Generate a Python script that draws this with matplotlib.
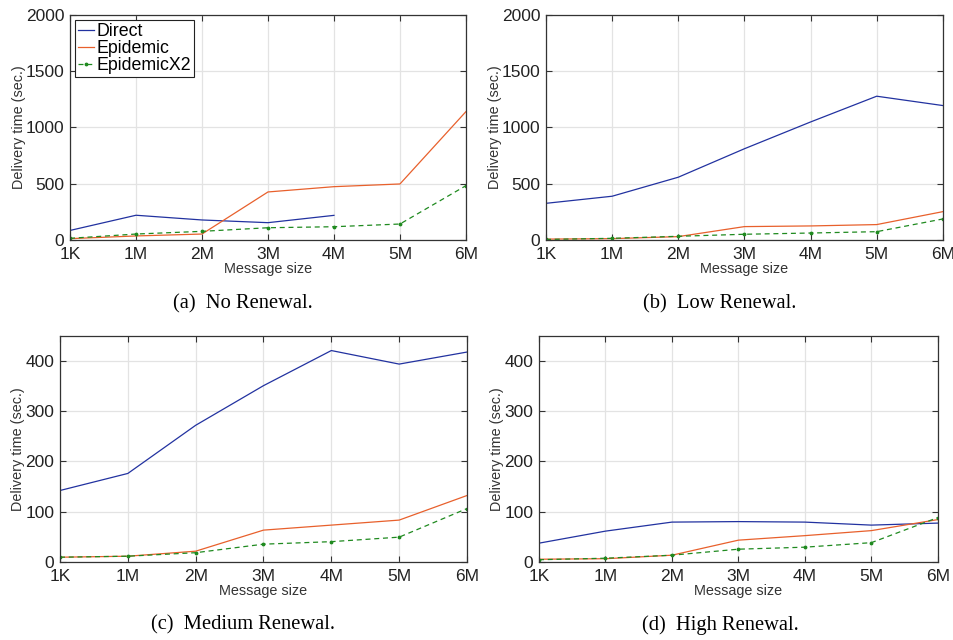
import matplotlib
matplotlib.use("Agg")
import matplotlib.pyplot as plt

plt.rcParams['font.family'] = ['Liberation Sans', 'DejaVu Sans']

sizes = ["1K", "1M", "2M", "3M", "4M", "5M", "6M"]

# delivery time (sec.) per renewal level
no_direct = [85, 220, 178, 154, 219]          # no data past 4M
no_epidemic = [12, 36, 53, 427, 474, 498, 1141]
no_epidemic_x2 = [15, 53, 77, 109, 118, 142, 483]

low_direct = [326, 389, 558, 811, 1049, 1278, 1195]
low_epidemic = [8, 12, 30, 119, 125, 137, 252]
low_epidemic_x2 = [5, 15, 33, 51, 62, 74, 187]

med_direct = [142, 176, 272, 351, 421, 394, 418]
med_epidemic = [9, 11, 21, 63, 73, 83, 132]
med_epidemic_x2 = [9, 11, 18, 35, 40, 49, 106]

high_direct = [37, 61, 79, 80, 79, 73, 77]
high_epidemic = [5, 6, 13, 43, 52, 62, 84]
high_epidemic_x2 = [4, 7, 13, 25, 29, 38, 88]

captions = ["(a)  No Renewal.", "(b)  Low Renewal.",
            "(c)  Medium Renewal.", "(d)  High Renewal."]

panels = [
    (no_direct, no_epidemic, no_epidemic_x2, 2000, [0, 500, 1000, 1500, 2000]),
    (low_direct, low_epidemic, low_epidemic_x2, 2000, [0, 500, 1000, 1500, 2000]),
    (med_direct, med_epidemic, med_epidemic_x2, 450, [0, 100, 200, 300, 400]),
    (high_direct, high_epidemic, high_epidemic_x2, 450, [0, 100, 200, 300, 400]),
]

# axes rectangles in figure fractions
rects = [
    [0.0734, 0.625, 0.415, 0.3516],
    [0.5723, 0.625, 0.416, 0.3516],
    [0.0629, 0.1223, 0.4266, 0.3527],
    [0.565, 0.1223, 0.418, 0.3527],
]
caption_pos = [(243, 304), (720, 304), (243, 625), (720, 625)]

c_direct = "#2232a0"
c_epi = "#e8602c"
c_epi2 = "#1f8a1f"

fig = plt.figure(figsize=(9.54, 6.4), dpi=100)

for i, (d, e, e2, ymax, yt) in enumerate(panels):
    ax = fig.add_axes(rects[i])
    x = list(range(len(sizes)))
    ax.plot(x[:len(d)], d, color=c_direct, lw=0.9, label="Direct")
    ax.plot(x, e, color=c_epi, lw=0.9, label="Epidemic")
    ax.plot(x, e2, color=c_epi2, lw=0.9, ls=(0, (4, 3)), marker='.',
            ms=3.5, label="EpidemicX2")
    ax.set_xlim(0, 6)
    ax.set_ylim(0, ymax)
    ax.set_xticks(x)
    ax.set_xticklabels(sizes)
    ax.set_yticks(yt)
    ax.grid(True, color="#e3e3e3", lw=0.9)
    ax.set_axisbelow(True)
    ax.tick_params(direction='in', top=True, right=True, length=4,
                   width=0.8, color="#333333", labelsize=12.5,
                   labelcolor="#222222")
    ax.tick_params(axis='x', pad=5)
    ax.tick_params(axis='y', pad=4)
    for s in ax.spines.values():
        s.set_color("#333333")
        s.set_linewidth(0.9)
    ax.set_xlabel("Message size", fontsize=10.4, color="#333333", labelpad=0)
    ax.set_ylabel("Delivery time (sec.)", fontsize=10.4, color="#333333",
                  labelpad=0)
    if i == 0:
        leg = ax.legend(loc='upper left', fontsize=12.8, handlelength=0.9,
                        handletextpad=0.15, borderpad=0.15, labelspacing=0.0,
                        borderaxespad=0.3, fancybox=False, framealpha=1)
        leg.get_frame().set_edgecolor("#222222")
        leg.get_frame().set_linewidth(0.8)
    cx, cy = caption_pos[i]
    fig.text(cx / 954, 1 - cy / 640, captions[i], ha='center', va='center',
             fontsize=14.8, family='Liberation Serif')

fig.savefig("out.png", dpi=100)
